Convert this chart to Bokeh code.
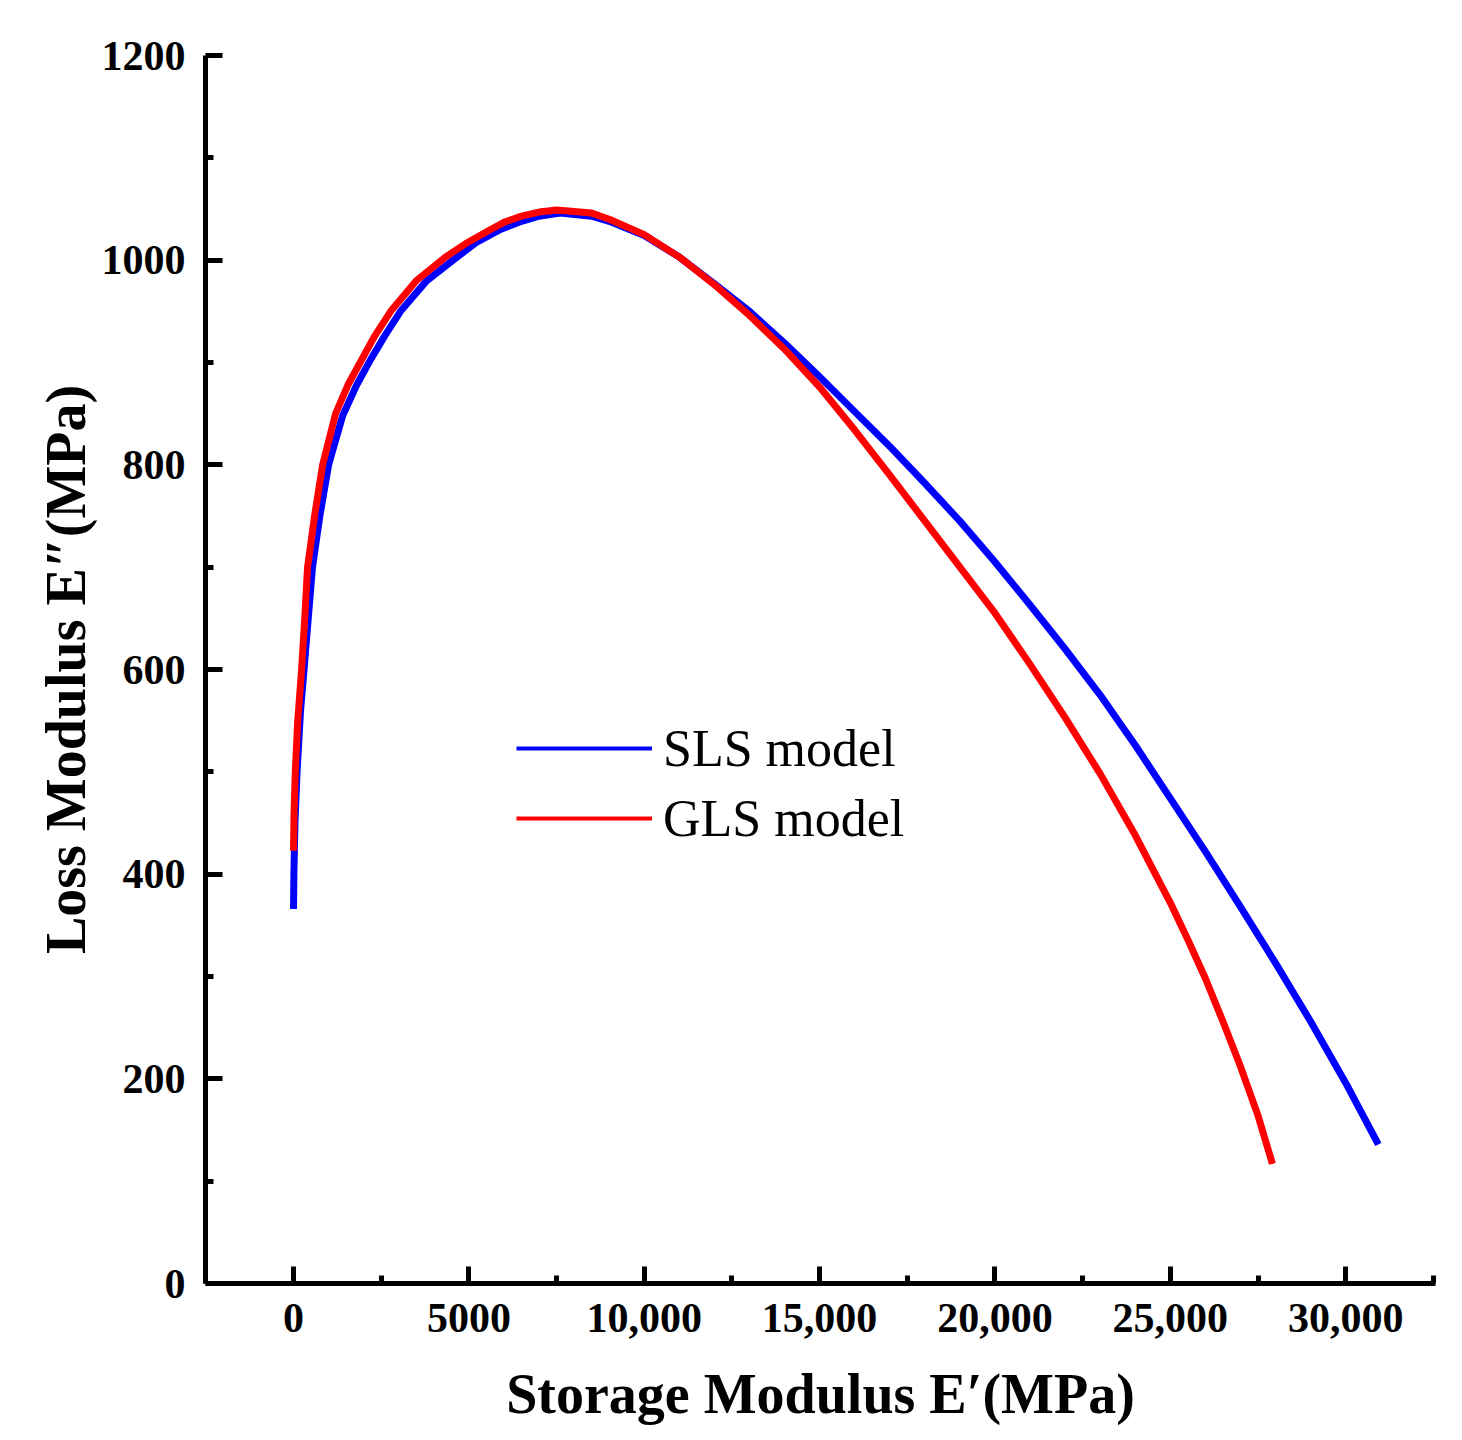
from bokeh.plotting import figure
from bokeh.models import Range1d, FixedTicker, Legend, LegendItem, ColumnDataSource
from bokeh.embed import file_html
from bokeh.resources import INLINE

# ---- data (E' storage modulus, E'' loss modulus, MPa) ----
sls_storage = [0, 10, 40, 100, 200, 300, 420, 540, 750, 1000, 1400, 1800, 2200,
               2600, 3050, 3800, 4620, 5200, 5900, 6500, 7000, 7600, 8500, 9000,
               10000, 11000, 12000, 13000, 14000, 15000, 16000, 17000, 18000,
               19000, 20000, 21000, 22000, 23000, 24000, 25000, 26000, 27000,
               28000, 29000, 30000, 30930]
sls_loss = [366, 400, 450, 500, 560, 600, 650, 700, 750, 800, 848, 878, 903,
            926, 950, 980, 1002, 1017, 1030, 1038, 1043, 1046, 1043, 1038,
            1024, 1003, 977, 950, 919, 886, 852, 818, 782,
            745, 705, 663, 620, 575, 526, 474, 422, 368,
            313, 256, 196, 136]

gls_storage = [0, 15, 50, 120, 230, 320, 400, 600, 830, 1200, 1550, 1900, 2300,
               2770, 3500, 4330, 4900, 5620, 6000, 6500, 7000, 7500, 8500, 9000,
               10000, 11000, 12000, 13000, 14000, 15000, 16000, 17000, 18000,
               19000, 20000, 21000, 22000, 23000, 24000, 25000, 25500, 26000,
               26500, 27000, 27500, 27910]
gls_loss = [423, 460, 500, 550, 600, 650, 700, 750, 800, 850, 878, 900, 925,
            950, 980, 1003, 1016, 1030, 1037, 1043, 1047, 1049, 1046, 1040,
            1025, 1003, 976, 946, 913, 876, 834, 790, 745,
            700, 655, 605, 553, 498, 438, 372, 336, 298,
            256, 212, 164, 117]

x_ticks = [0, 5000, 10000, 15000, 20000, 25000, 30000]
x_tick_labels = ["0", "5000", "10,000", "15,000", "20,000", "25,000", "30,000"]
x_minor = [-2500, 2500, 7500, 12500, 17500, 22500, 27500, 32500]
y_ticks = [0, 200, 400, 600, 800, 1000, 1200]
y_tick_labels = ["0", "200", "400", "600", "800", "1000", "1200"]
y_minor = [100, 300, 500, 700, 900, 1100]

x_title = "Storage Modulus E\u2032(MPa)"
y_title = "Loss Modulus E\u2033(MPa)"
series_names = ["SLS model", "GLS model"]
series_colors = ["#0000ff", "#ff0000"]

FONT = "Liberation Serif"

p = figure(width=1454, height=1432, output_backend="svg", toolbar_location=None,
           x_range=Range1d(-2510, 32560), y_range=Range1d(0, 1200),
           min_border_left=205, min_border_right=19, min_border_top=55,
           min_border_bottom=149)
p.outline_line_color = None
p.xgrid.visible = False
p.ygrid.visible = False
p.background_fill_color = "white"
p.border_fill_color = "white"

for ax, ticks, minor, labels, title in (
        (p.xaxis[0], x_ticks, x_minor, x_tick_labels, x_title),
        (p.yaxis[0], y_ticks, y_minor, y_tick_labels, y_title)):
    ax.ticker = FixedTicker(ticks=ticks, minor_ticks=minor)
    ax.major_label_overrides = {t: l for t, l in zip(ticks, labels)}
    ax.axis_line_width = 5
    ax.axis_line_color = "black"
    ax.major_tick_line_width = 5
    ax.minor_tick_line_width = 5
    ax.major_tick_in = 17
    ax.major_tick_out = 0
    ax.minor_tick_in = 8
    ax.minor_tick_out = 0
    ax.major_label_text_font = FONT
    ax.major_label_text_font_style = "bold"
    ax.major_label_text_font_size = "42px"
    ax.major_label_text_color = "black"
    ax.major_label_standoff = 20
    ax.axis_label = title
    ax.axis_label_text_font = FONT
    ax.axis_label_text_font_style = "bold"
    ax.axis_label_text_font_size = "56px"
    ax.axis_label_text_color = "black"
p.xaxis[0].axis_label_standoff = 28
p.yaxis[0].axis_label_standoff = 2

# curves; a thin copy of each line serves as the legend key
items = []
for xs, ys, name, col in ((sls_storage, sls_loss, series_names[0], series_colors[0]),
                          (gls_storage, gls_loss, series_names[1], series_colors[1])):
    src = ColumnDataSource(dict(x=xs, y=ys))
    lr = p.line("x", "y", source=src, line_color=col, line_width=4)
    p.line("x", "y", source=src, line_color=col, line_width=7, line_join="round")
    items.append(LegendItem(label=name, renderers=[lr]))

legend = Legend(items=items, location=(311, 434), glyph_width=136, glyph_height=62,
                label_height=62, label_standoff=11, spacing=8, padding=0, margin=0,
                border_line_color=None, background_fill_alpha=0,
                label_text_font=FONT, label_text_font_size="52px",
                label_text_color="black")
p.add_layout(legend, "center")

open("out.html", "w").write(file_html(p, INLINE))
